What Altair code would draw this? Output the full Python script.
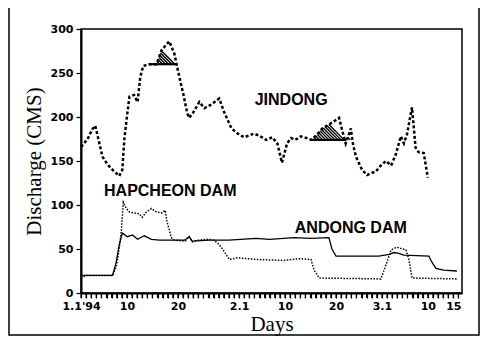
import altair as alt
import pandas as pd
import numpy as np

# ---- data (day index: 1 = Jan 1 1994, 32 = Feb 1, 60 = Mar 1) ----
jd_day = [1.0, 2.3, 3.2, 3.8, 4.4, 5.2, 6.2, 7.2, 8.5, 9.1, 9.5, 10.1, 10.5, 11.4, 12.1, 12.6,
          13.2, 14.4, 15.8, 16.8, 18.3, 19.3, 19.7, 20.3, 21.1, 21.8, 22.2, 23.0, 24.2, 25.2,
          26.5, 28.1, 29.1, 30.5, 32.0, 33.0, 34.9, 35.9, 37.3, 38.5, 39.5, 40.4, 41.4, 42.2,
          43.0, 44.1, 45.3, 46.1, 47.3, 48.3, 49.2, 50.6, 51.6, 52.2, 52.9, 53.5, 53.9, 54.3,
          54.9, 56.1, 57.1, 57.8, 58.8, 59.8, 60.8, 61.8, 62.7, 63.7, 64.3, 64.9, 65.9, 66.6,
          67.2, 68.2, 68.6, 69.0]
jd_val = [166, 175, 186, 190, 175, 155, 146, 140, 133, 140, 175, 205, 223, 225, 217, 245,
          258, 260, 260, 276, 286, 272, 261, 245, 225, 205, 199, 205, 217, 210,
          214, 221, 205, 187, 180, 177, 181, 179, 174, 177, 170, 148, 170, 176,
          174, 178, 176, 174, 180, 187, 190, 195, 199, 185, 170, 180, 187, 170,
          155, 140, 134, 136, 138, 145, 150, 145, 157, 178, 170, 180, 211, 165,
          160, 159, 145, 131]

hp_day = [1.0, 2.1, 7.2, 7.9, 8.3, 8.7, 8.9, 9.3, 9.9, 10.5, 11.4, 12.4, 13.0, 13.8, 14.8,
          15.8, 16.8, 17.5, 17.9, 18.3, 18.7, 19.3, 21.5, 22.2, 22.8, 24.0, 26.0, 27.1, 28.1,
          29.1, 30.1, 31.6, 35.9, 40.8, 43.8, 46.1, 46.7, 47.7, 59.8, 60.8, 61.8, 62.9, 64.7,
          65.3, 65.9, 74.7]
hp_val = [17, 20, 20, 30, 43, 60, 70, 103, 96, 92, 91, 90, 86, 92, 96,
          92, 91, 94, 80, 72, 63, 60, 59, 64, 58, 60, 61, 60, 55,
          47, 38, 40, 38, 37, 39, 38, 26, 17, 16, 32, 49, 52, 49,
          38, 17, 16]

ad_day = [1.0, 7.2, 7.9, 8.5, 9.1, 10.1, 11.1, 12.1, 13.4, 14.8, 16.4, 19.3, 21.3, 22.2, 22.8,
          26.1, 30.0, 35.3, 38.0, 42.8, 46.0, 49.6, 50.2, 51.0, 59.4, 61.4, 62.4, 63.3, 64.3,
          69.2, 69.8, 70.6, 72.1, 74.7]
ad_val = [20, 20, 35, 55, 68, 64, 66, 61, 65, 61, 60, 60, 60, 64, 59,
          60, 60, 62, 61, 63, 62, 63, 50, 42, 42, 44, 46, 45, 43,
          42, 35, 28, 26, 25]

# hatched excess regions of the Jindong curve: (baseline, start day, end day)
hatch_base = [260, 174]
hatch_start = [15.8, 46.6]
hatch_end = [19.7, 54.3]
flat_start = [14.4, 46.1]
flat_end = [19.7, 53.0]

label_text = ["JINDONG", "HAPCHEON DAM", "ANDONG DAM"]
label_day = [42.2, 18.5, 53.9]
label_val = [214, 110, 68]

tick_days = [1, 10, 20, 32, 41, 51, 60, 69, 74]
tick_text = ["1.1'94", "10", "20", "2.1", "10", "20", "3.1", "10", "15"]
minor_days = list(range(1, 76))

# ---- build frames ----
jd = pd.DataFrame({"day": jd_day, "v": jd_val})
hp = pd.DataFrame({"day": hp_day, "v": hp_val})
ad = pd.DataFrame({"day": ad_day, "v": ad_val})

ratio = 5.11 / 0.88  # value units per day for a 45-degree hatch
rows = []
for base, d0, d1 in zip(hatch_base, hatch_start, hatch_end):
    for b in np.arange(d0, d1, 0.6):
        if np.interp(b, jd_day, jd_val) <= base:
            continue
        u = 0.0
        while True:
            un = u + 0.01
            xx = b - un
            if xx < d0 or np.interp(xx, jd_day, jd_val) <= base + un * ratio:
                break
            u = un
        if u > 0.02:
            rows.append({"day": b, "v": base, "x2": b - u, "y2": base + u * ratio})
hatch = pd.DataFrame(rows)

flats = pd.DataFrame({"day": flat_start, "x2": flat_end, "v": hatch_base})
labels = pd.DataFrame({"t": label_text, "day": label_day, "v": label_val})
minor = pd.DataFrame({"day": minor_days})

expr = ""
for d, t in zip(tick_days, tick_text):
    expr += f'datum.value == {d} ? "{t}" : '
expr += '""'

xscale = alt.Scale(domain=[1, 75.7], nice=False, zero=False)
yscale = alt.Scale(domain=[0, 300], nice=False)

xaxis = alt.Axis(values=minor_days, labelExpr=expr, title="Days",
                 ticks=True, tickSize=5, tickWidth=1.2, tickColor="black",
                 labelPadding=2, labelOverlap=False, labelFlush=False,
                 labelFont="DejaVu Sans", labelFontWeight="bold", labelFontSize=11,
                 titleFont="Liberation Serif", titleFontSize=21, titleFontWeight="normal",
                 titlePadding=2, grid=False, domainWidth=2)
yaxis = alt.Axis(values=[0, 50, 100, 150, 200, 250, 300], title="Discharge (CMS)",
                 ticks=True, tickSize=5, tickWidth=1.2, tickColor="black", labelPadding=3,
                 labelFont="DejaVu Sans", labelFontWeight="bold", labelFontSize=11,
                 titleFont="Liberation Serif", titleFontSize=21, titleFontWeight="normal",
                 titlePadding=6, grid=False, domainWidth=2)

X = alt.X("day:Q", scale=xscale, axis=xaxis)
Y = alt.Y("v:Q", scale=yscale, axis=yaxis)

jd_line = alt.Chart(jd).mark_line(color="black", strokeWidth=2.5, strokeDash=[3, 2.2]).encode(x=X, y=Y)
hp_line = alt.Chart(hp).mark_line(color="black", strokeWidth=1.5, strokeDash=[1.5, 1.5]).encode(x=X, y=Y)
ad_line = alt.Chart(ad).mark_line(color="black", strokeWidth=1.3).encode(x=X, y=Y)

hatch_rules = alt.Chart(hatch).mark_rule(color="black", strokeWidth=1.4).encode(
    x=X, x2="x2:Q", y=Y, y2="y2:Q")
flat_rules = alt.Chart(flats).mark_rule(color="black", strokeWidth=2.2).encode(
    x=X, x2="x2:Q", y=Y)

# daily comb of small ticks just below the x axis line
comb = alt.Chart(minor).mark_rule(color="black", strokeWidth=1.2).encode(
    x=X, y=alt.value(265), y2=alt.value(269))

texts = alt.Chart(labels).mark_text(font="Liberation Sans", fontWeight="bold", fontSize=16,
                                    align="center", baseline="alphabetic", color="black").encode(
    x=X, y=Y, text="t:N")

frame = alt.Chart(pd.DataFrame({"a": [0]})).mark_rect(
    filled=False, stroke="black", strokeWidth=1.5).encode(
    x=alt.value(-72), x2=alt.value(398), y=alt.value(-23), y2=alt.value(306))

chart = alt.layer(jd_line, hp_line, ad_line, hatch_rules, flat_rules, comb, texts, frame).properties(
    width=381, height=264,
    autosize=alt.AutoSizeParams(type="none"),
    padding={"left": 73, "top": 21, "right": 18, "bottom": 44},
    background="white",
).configure_view(stroke="black", strokeWidth=1.5).configure_axis(
    domainColor="black", tickColor="black", labelColor="black", titleColor="black")

chart.save("out.html", embed_options={"renderer": "svg", "actions": False})
